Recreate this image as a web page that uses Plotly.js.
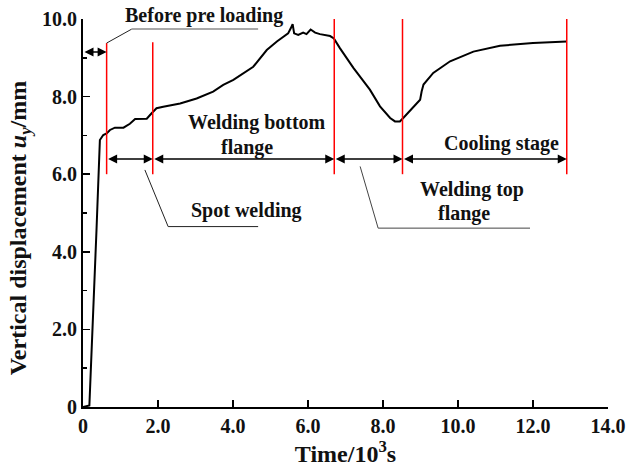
<!DOCTYPE html>
<html>
<head>
<meta charset="utf-8">
<script src="https://cdn.plot.ly/plotly-3.0.1.min.js"></script>
<style>html,body{margin:0;padding:0;background:#fff;}#chart{width:626px;height:471px;}</style>
</head>
<body>
<div id="chart"></div>
<script>
// Curve: time (10^3 s) and vertical displacement (mm)
var timeK = [0, 0.1, 0.17, 0.36, 0.41, 0.45, 0.54, 0.63, 0.72, 0.85, 1.08, 1.25, 1.39, 1.7, 1.83, 1.96, 2.14, 2.59, 3.03, 3.47, 3.74, 4.01, 4.54, 4.9, 5.17, 5.34, 5.47, 5.54, 5.59, 5.63, 5.74, 5.87, 5.96, 6.07, 6.19, 6.32, 6.45, 6.59, 6.69, 6.85, 7.21, 7.57, 7.65, 7.92, 8.19, 8.32, 8.45, 8.54, 8.75, 8.99, 9.03, 9.08, 9.34, 9.79, 10.41, 11.12, 12.0, 12.9];
var dispY = [0, 0.02, 0.04, 4.56, 6.0, 6.88, 7.01, 7.05, 7.14, 7.2, 7.2, 7.3, 7.42, 7.43, 7.57, 7.7, 7.74, 7.82, 7.95, 8.13, 8.3, 8.43, 8.77, 9.2, 9.42, 9.54, 9.63, 9.76, 9.87, 9.63, 9.59, 9.65, 9.61, 9.73, 9.65, 9.61, 9.59, 9.56, 9.5, 9.25, 8.74, 8.26, 8.18, 7.75, 7.45, 7.36, 7.36, 7.45, 7.68, 7.92, 8.13, 8.31, 8.61, 8.91, 9.16, 9.31, 9.38, 9.42];

// Stage boundaries (red lines)
var stageX = [0.63, 1.86, 6.7, 8.52, 12.9];
var stageTop = [9.38, 9.4, 10.0, 10.0, 10.0];
var stageBottom = 6.0;

// Stage arrows
var arrowLevel = 6.39;
var preLoadLevel = 9.15;

// Tick labels
var xTickVals = [0, 2, 4, 6, 8, 10, 12, 14];
var xTickText = ['0', '2.0', '4.0', '6.0', '8.0', '10.0', '12.0', '14.0'];
var yTickVals = [0, 2, 4, 6, 8, 10];
var yTickText = ['0', '2.0', '4.0', '6.0', '8.0', '10.0'];
var yMinor = [1, 3, 5, 7, 9];

// Stage labels (inside plot)
var labelText = ['Welding bottom', 'flange', 'Spot welding', 'Welding top', 'flange', 'Cooling stage'];
var labelX = [4.65, 4.37, 4.37, 10.37, 10.16, 11.17];
var labelY = [7.33, 6.68, 5.07, 5.6, 5.0, 6.79];
// Label above plot top
var topLabel = 'Before pre loading';
var topLabelX = 3.23;

var F = 'Liberation Serif, Times New Roman, serif';
var fs = 20;
var ft = 24;

var shapes = [];
for (var i = 0; i < stageX.length; i++) {
  shapes.push({type: 'line', xref: 'x', yref: 'y', x0: stageX[i], x1: stageX[i], y0: stageBottom, y1: stageTop[i], line: {color: '#ff0000', width: 1.5}});
}
// leader lines
shapes.push({type: 'path', xref: 'x', yref: 'y', path: 'M 0.63 9.38 L 1.3 9.74', line: {color: '#222', width: 1}});
shapes.push({type: 'line', xref: 'x', yref: 'y', x0: 1.3, x1: 4.67, y0: 9.74, y1: 9.74, line: {color: '#a8a8a8', width: 2}});
shapes.push({type: 'path', xref: 'x', yref: 'y', path: 'M 1.65 6.11 L 2.27 4.65 L 4.67 4.65', line: {color: '#222', width: 1}});
shapes.push({type: 'path', xref: 'x', yref: 'y', path: 'M 7.39 6.2 L 7.87 4.61 L 11.92 4.61', line: {color: '#444', width: 1}});

var annotations = [];
function dblArrow(x0, x1, y) {
  annotations.push({x: x1, y: y, ax: x0, ay: y, xref: 'x', yref: 'y', axref: 'x', ayref: 'y', text: '', showarrow: true, arrowside: 'end+start', arrowhead: 2, arrowsize: 1.2, arrowwidth: 1.5, arrowcolor: '#000', standoff: 0, startstandoff: 0});
}
dblArrow(0, stageX[0], preLoadLevel);
for (var j = 0; j < stageX.length - 1; j++) dblArrow(stageX[j], stageX[j + 1], arrowLevel);
for (var k = 0; k < labelText.length; k++) {
  annotations.push({x: labelX[k], y: labelY[k], xref: 'x', yref: 'y', text: '<b>' + labelText[k] + '</b>', showarrow: false, font: {family: F, size: fs, color: '#111'}, xanchor: 'center', yanchor: 'middle'});
}
annotations.push({x: topLabelX, y: 1.0085, xref: 'x', yref: 'paper', text: '<b>' + topLabel + '</b>', showarrow: false, font: {family: F, size: fs, color: '#111'}, xanchor: 'center', yanchor: 'middle'});

var trace = {x: timeK, y: dispY, type: 'scatter', mode: 'lines', line: {color: '#000', width: 2}, hoverinfo: 'none'};

var layout = {
  width: 626, height: 471,
  margin: {l: 83, r: 18, t: 19, b: 64},
  paper_bgcolor: '#fff', plot_bgcolor: '#fff',
  showlegend: false,
  font: {family: F, size: fs, color: '#111'},
  xaxis: {range: [0, 14], tickvals: xTickVals, ticktext: xTickText, ticks: 'inside', ticklen: 7, tickwidth: 1.5, tickcolor: '#000',
    showline: true, linecolor: '#000', linewidth: 2, showgrid: false, zeroline: false,
    tickfont: {family: F, size: fs, color: '#111', weight: 'bold'},
    title: {text: '<b>Time/10<sup>3</sup>s</b>', font: {family: F, size: ft, color: '#111'}, standoff: 8}},
  yaxis: {range: [0, 10], tickvals: yTickVals, ticktext: yTickText, ticks: 'inside', ticklen: 7, tickwidth: 1.5, tickcolor: '#000',
    showline: true, linecolor: '#000', linewidth: 2, showgrid: false, zeroline: false,
    minor: {tickvals: yMinor, ticks: 'inside', ticklen: 4, tickwidth: 1.5, tickcolor: '#000', showgrid: false},
    tickfont: {family: F, size: fs, color: '#111', weight: 'bold'},
    title: {text: '<b>Vertical displacement <i>u</i><sub><i>y</i></sub>/mm&nbsp;&nbsp;&nbsp;&nbsp;&nbsp;</b>', font: {family: F, size: ft, color: '#111'}, standoff: 9}},
  shapes: shapes,
  annotations: annotations
};

Plotly.newPlot('chart', [trace], layout, {staticPlot: true, displayModeBar: false});
</script>
</body>
</html>
